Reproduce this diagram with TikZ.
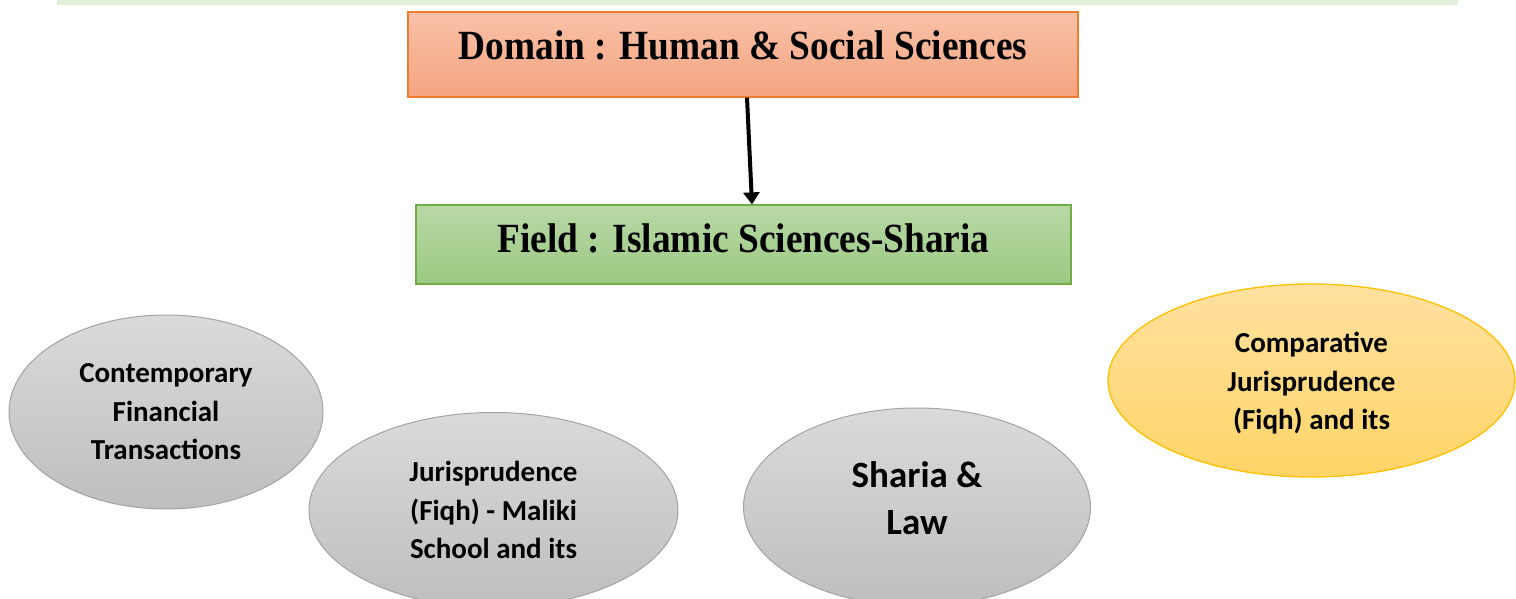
\documentclass[tikz,border=0pt]{standalone}
\usepackage{fontspec}
\setmainfont{Liberation Serif}
\newfontfamily\boxfont[FakeStretch=0.9]{Liberation Serif}
\newfontfamily\calibrifont{Carlito}
\usetikzlibrary{shapes.geometric,arrows.meta}

\definecolor{striplight}{HTML}{E2EFD9}
\definecolor{domaintop}{HTML}{F8C1A8}
\definecolor{domainbot}{HTML}{F5A47F}
\definecolor{domainline}{HTML}{ED7D31}
\definecolor{fieldtop}{HTML}{B8D8A6}
\definecolor{fieldbot}{HTML}{9CC982}
\definecolor{fieldline}{HTML}{70AD47}
\definecolor{greytop}{HTML}{DADADA}
\definecolor{greybot}{HTML}{BEBEBE}
\definecolor{greyline}{HTML}{A3A3A3}
\definecolor{goldtop}{HTML}{FFE1A0}
\definecolor{goldbot}{HTML}{FFD467}
\definecolor{goldline}{HTML}{FFC000}

\begin{document}
\begin{tikzpicture}[x=1pt,y=-1pt,>={Triangle[width=16pt,length=12pt]},
    level box/.style={rectangle,line width=1.2pt,inner sep=0pt,
        font=\boxfont\bfseries\fontsize{41.5}{46}\selectfont},
    domain box/.style={level box,draw=domainline,top color=domaintop,bottom color=domainbot,
        minimum width=670pt,minimum height=85pt,text height=48pt,text depth=37pt},
    field box/.style={level box,draw=fieldline,top color=fieldtop,bottom color=fieldbot,
        minimum width=655pt,minimum height=79pt,text height=47pt,text depth=32pt},
    topic/.style={ellipse,draw=greyline,line width=1pt,top color=greytop,bottom color=greybot,
        inner sep=0pt,align=center,font=\calibrifont\bfseries\fontsize{29}{38.5}\selectfont},
    gold topic/.style={topic,draw=goldline,line width=1.3pt,top color=goldtop,bottom color=goldbot}]
\clip (0,0) rectangle (1516,599);

% strip left over from the page above
\fill[striplight] (57,0) rectangle (1458,5);

\node[domain box] (domain) at (743,54.5) {Domain : Human \& Social Sciences};
\node[field box] (field) at (743.5,244.5) {Field : Islamic Sciences-Sharia};

\draw[->,line width=4pt] ([xshift=4pt]domain.south) -- ([xshift=8.5pt]field.north);

% specialities
\node[topic,minimum width=314pt,minimum height=194pt] (finance) at (166,412)
    {Contemporary\\Financial\\Transactions};
\node[topic,minimum width=369pt,minimum height=195pt] (maliki) at (493.5,510)
    {Jurisprudence\\(Fiqh) - Maliki\\School and its};
\node[topic,minimum width=347pt,minimum height=198pt,
    font=\calibrifont\bfseries\fontsize{37}{47}\selectfont] (law) at (917,507)
    {Sharia \&\\Law\rule[-18pt]{0pt}{18pt}};
\node[gold topic,minimum width=407pt,minimum height=193pt] (compare) at (1311.5,380.5)
    {\rule{0pt}{26pt}Comparative\\Jurisprudence\\(Fiqh) and its};

\end{tikzpicture}
\end{document}
